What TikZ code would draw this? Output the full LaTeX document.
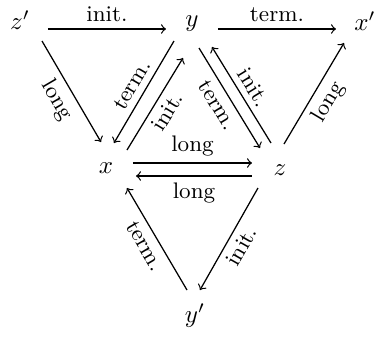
\documentclass[tikz,border=0pt]{standalone}
\usetikzlibrary{calc}
\begin{document}
\begin{tikzpicture}[x=0.4pt,y=-0.4pt,
  obj/.style={inner sep=0pt},
  arr/.style={->, line width=0.5pt},
  lab/.style={font=\small, sloped, inner sep=2.5pt},
  hlab/.style={font=\small, inner sep=2.5pt}]
\useasboundingbox (0,0) rectangle (376,336);
\node[obj] (zp) at (20,20) {$z'$};
\node[obj] (y)  at (192,24) {$y$};
\node[obj] (xp) at (365,21) {$x'$};
\node[obj] (x)  at (106,168) {$x$};
\node[obj] (z)  at (280,170) {$z$};
\node[obj] (yp) at (195,316) {$y'$};
% top row
\draw[arr] ($(zp)+(28,9)$) -- node[hlab,above]{init.} ($(y)+(-26,5)$);
\draw[arr] ($(y)+(26,5)$) -- node[hlab,above]{term.} ($(xp)+(-29,8)$);
% left side
\draw[arr] ($(zp)+(22,21)$) -- node[lab,below]{long} ($(x)+(-5,-26)$);
\draw[arr] ($(y)+(-18,17)$) -- node[lab,above]{term.} ($(x)+(8,-25)$);
\draw[arr] ($(x)+(21,-18)$) -- node[lab,below]{init.} ($(y)+(-9,34)$);
% right side
\draw[arr] ($(y)+(7,24)$) -- node[lab,below]{term.} ($(z)+(-20,-22)$);
\draw[arr] ($(z)+(-9,-27)$) -- node[lab,above]{init.} ($(y)+(20,23)$);
\draw[arr] ($(z)+(4,-26)$) -- node[lab,below]{long} ($(xp)+(-21,22)$);
% middle
\draw[arr] ($(x)+(27,-5)$) -- node[hlab,above]{long} ($(z)+(-28,-7)$);
\draw[arr] ($(z)+(-28,6)$) -- node[hlab,below]{long} ($(x)+(30,8)$);
% bottom
\draw[arr] ($(z)+(-22,18)$) -- node[lab,below]{init.} ($(yp)+(5,-26)$);
\draw[arr] ($(yp)+(-8,-26)$) -- node[lab,below]{term.} ($(x)+(21,20)$);
\end{tikzpicture}
\end{document}
